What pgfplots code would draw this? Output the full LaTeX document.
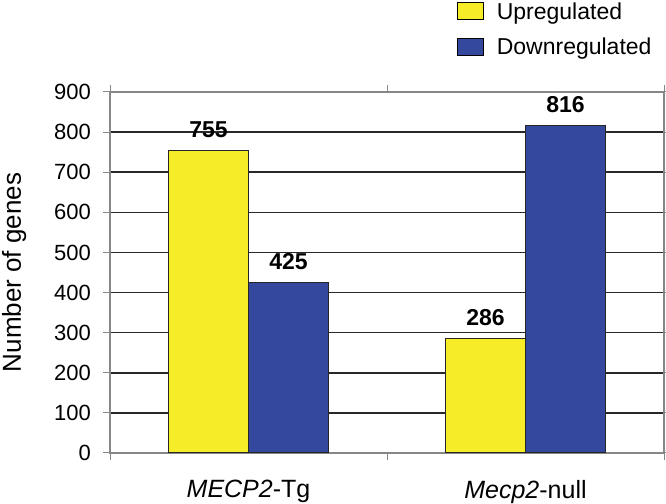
\documentclass[border=0pt]{standalone}
\usepackage{pgfplots}
\pgfplotsset{compat=1.18}
\usepackage{fontspec}
\setmainfont{Liberation Sans}
\definecolor{upY}{RGB}{247,236,40}
\definecolor{downB}{RGB}{52,73,158}
\definecolor{axgray}{RGB}{135,135,135}
\definecolor{gridc}{RGB}{40,40,40}
\begin{document}
\begin{tikzpicture}
\useasboundingbox (0,0) rectangle (666pt,503pt);
\begin{axis}[
  at={(110pt,50pt)}, anchor=south west,
  scale only axis, width=554pt, height=361pt,
  ymin=0, ymax=900, ytick={0,100,...,900},
  xmin=-0.5, xmax=1.5,
  xtick={-0.5,0.5,1.5}, xticklabels={},
  extra x ticks={0,1},
  extra x tick labels={\textit{MECP2}-Tg, \textit{Mecp2}-null},
  extra x tick style={major tick length=0pt},
  x tick label style={font=\fontsize{25}{29}\selectfont, inner sep=0pt, anchor=north, yshift=-27pt},
  y tick label style={font=\fontsize{22}{26}\selectfont, inner sep=0pt, anchor=east, xshift=-12pt},
  /pgf/number format/assume math mode=true,
  tick align=outside, major tick length=7pt,
  tick style={axgray, line width=1pt},
  axis line style={axgray, line width=1.2pt},
  ymajorgrids=true, xmajorgrids=false,
  y grid style={gridc, line width=1.6pt},
  ylabel={Number of genes},
  every axis y label/.style={at={(axis description cs:-0.173,0.5)}, rotate=90, anchor=center, font=\fontsize{26}{30}\selectfont},
  ybar=0pt, bar width=0.289,
  every axis plot/.append style={draw=black!85, line width=1pt},
  nodes near coords,
  every node near coord/.append style={font=\bfseries\fontsize{23}{27}\selectfont, anchor=south, inner sep=0pt, yshift=12pt, black},
  legend cell align=left,
  legend style={draw=none, fill=none, inner sep=0pt, anchor=north west, at={(0.626,1.249)},
    font=\fontsize{23}{27}\selectfont, nodes={inner sep=0pt}, row sep=17pt,
    /tikz/every odd column/.append style={column sep=13pt}},
  legend image code/.code={\draw[#1, draw=black, line width=0.8pt] (0pt,-8pt) rectangle (26pt,9pt);},
  clip=false,
]
\addplot[fill=upY] coordinates {(0,755) (1,286)};
\addplot[fill=downB] coordinates {(0,425) (1,816)};
\legend{Upregulated, Downregulated}
\end{axis}
\end{tikzpicture}
\end{document}
